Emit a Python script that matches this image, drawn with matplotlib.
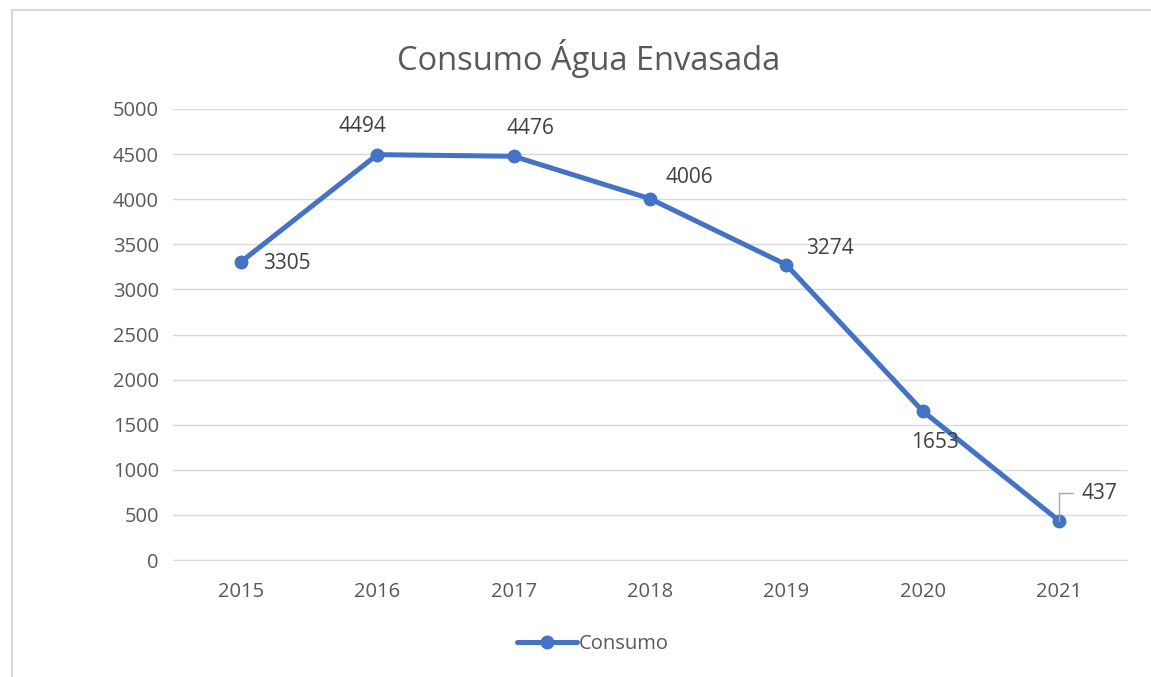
import matplotlib
matplotlib.use("Agg")
import matplotlib.pyplot as plt
from matplotlib.patches import Rectangle

years = ["2015", "2016", "2017", "2018", "2019", "2020", "2021"]
consumo = [3305, 4494, 4476, 4006, 3274, 1653, 437]
yticks = [0, 500, 1000, 1500, 2000, 2500, 3000, 3500, 4000, 4500, 5000]

plt.rcParams['font.family'] = ['Open Sans', 'DejaVu Sans']
TXT = '#595959'
LBL = '#404040'
BLUE = '#4472C4'

W, H = 1151, 677
PT = 0.72  # points per pixel at dpi 100
fig = plt.figure(figsize=(W/100, H/100), dpi=100)
fig.patches.append(Rectangle((12/W, -0.1), 1.2, 1 - 10/H + 0.1, transform=fig.transFigure,
                             fill=False, edgecolor='#D9D9D9', linewidth=1.5))

ax = fig.add_axes([172.8/W, 1 - 560/H, (1127-172.8)/W, (560-109)/H])
x = list(range(len(years)))
ax.plot(x, consumo, color=BLUE, linewidth=3.6, marker='o', markersize=9, label='Consumo',
        solid_capstyle='round', zorder=3)
ax.set_xlim(-0.5, len(years) - 0.5)
ax.set_ylim(0, 5000)
ax.set_yticks(yticks)
ax.set_xticks(x)
ax.set_xticklabels(years)
ax.grid(axis='y', color='#D9D9D9', linewidth=1)
ax.set_axisbelow(True)
for s in ['top', 'right', 'left']:
    ax.spines[s].set_visible(False)
ax.spines['bottom'].set_color('#D9D9D9')
ax.tick_params(axis='both', length=0, labelsize=14.5, labelcolor=TXT)
ax.tick_params(axis='y', pad=10)
ax.tick_params(axis='x', pad=16)

# label offsets in pixels (dx, dy, ha)
offsets = [(22, -2, 'left'), (-15, 28, 'center'), (17, 28, 'center'),
           (16, 21, 'left'), (20, 16, 'left'), (12, -32, 'center'),
           (23, 27, 'left')]
for i, (v, (dx, dy, ha)) in enumerate(zip(consumo, offsets)):
    ax.annotate(str(v), (i, v), xytext=(dx*PT, dy*PT), textcoords='offset points', ha=ha, va='center',
                fontsize=15, color=LBL)

# leader line for last label
i = len(years) - 1
ax.annotate('', (i, consumo[i]), xytext=(14*PT, 28*PT), textcoords='offset points',
            arrowprops=dict(arrowstyle='-', color='#A6A6A6', lw=1,
                            connectionstyle='angle,angleA=0,angleB=90,rad=0', shrinkA=0, shrinkB=0))

fig.text(589/W, 1 - 58/H, 'Consumo Água Envasada', ha='center', va='center', fontsize=23.5, color=TXT)

leg = fig.legend(loc='center', bbox_to_anchor=(593/W, 1 - 644/H), frameon=False, fontsize=14.5,
                 handlelength=3, handletextpad=0.1, labelcolor=TXT)

fig.savefig('out.png', dpi=100)
